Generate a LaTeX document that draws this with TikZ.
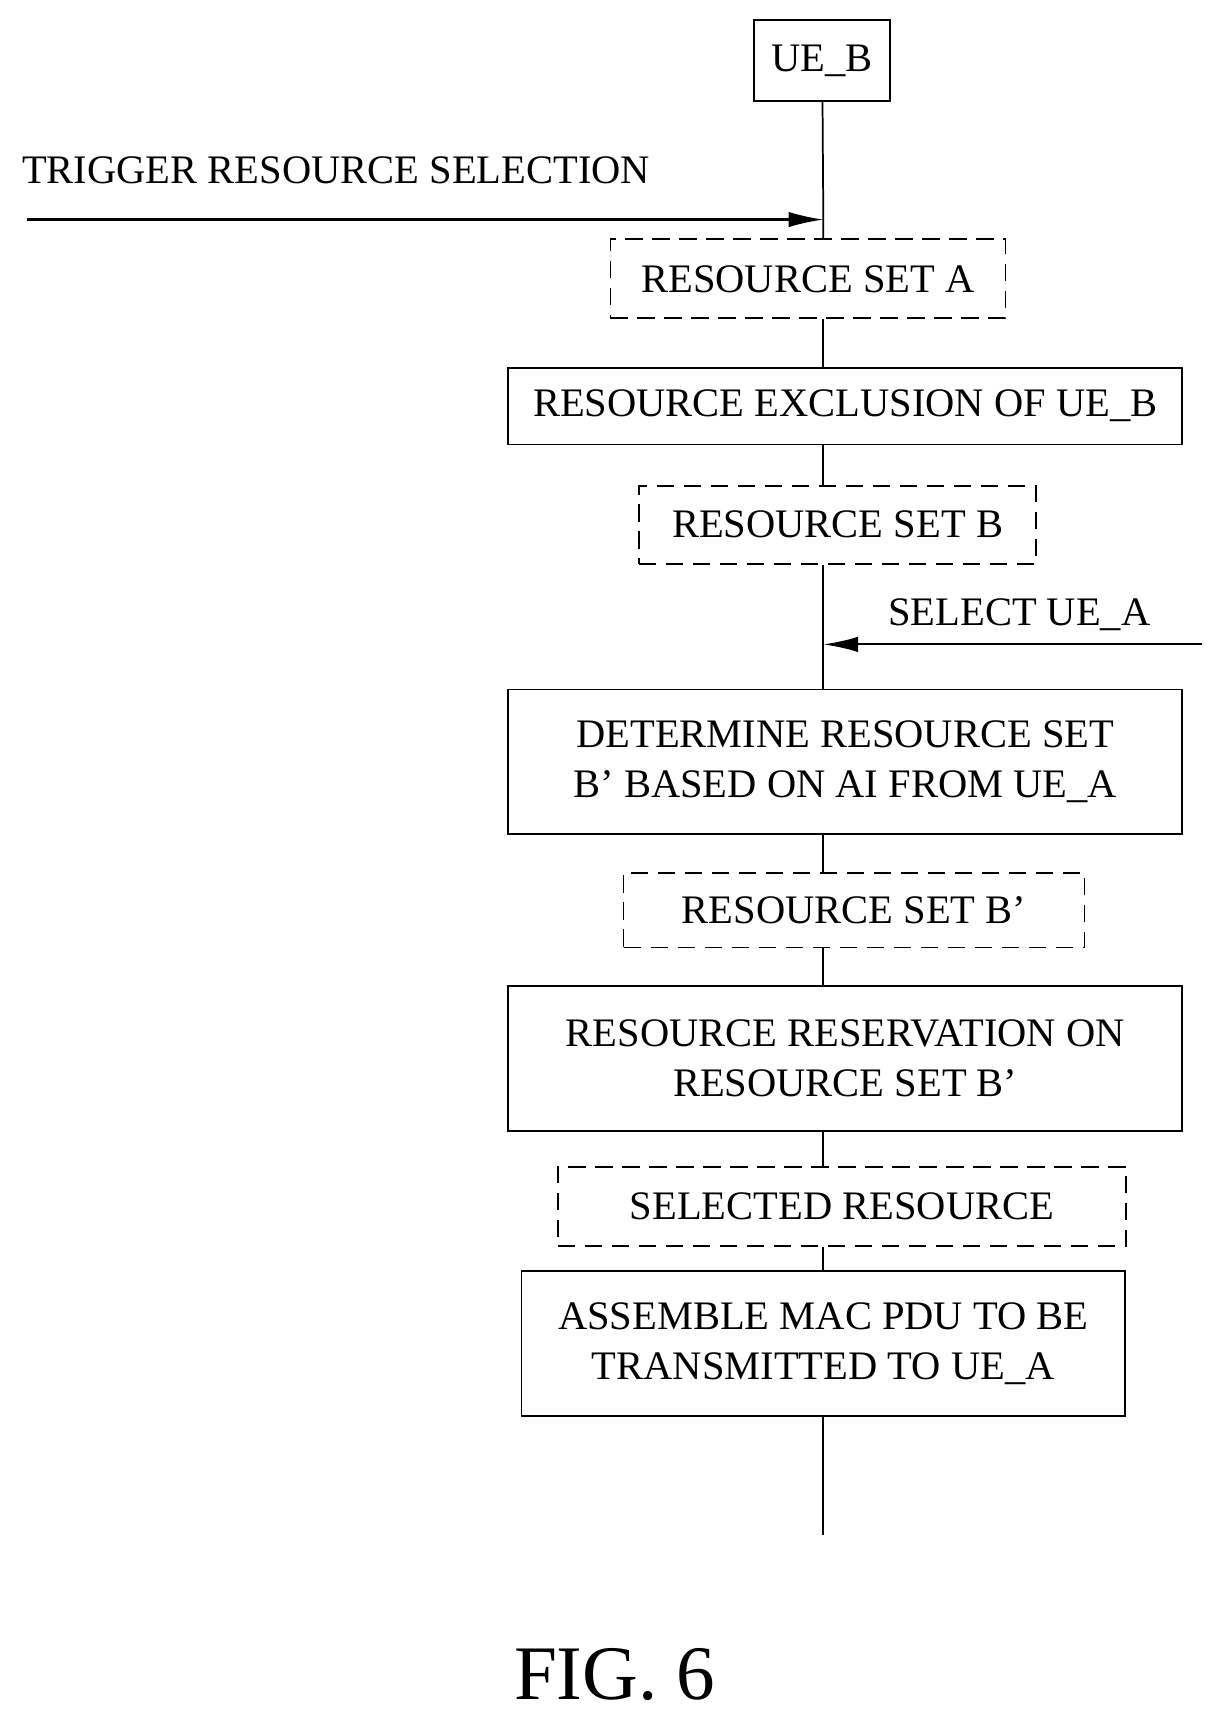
\documentclass[tikz,border=0pt]{standalone}
\usepackage{fontspec}
\setmainfont{Liberation Serif}
\usetikzlibrary{arrows.meta}
\begin{document}
\begin{tikzpicture}[x=0.02cm,y=-0.02cm,
  every node/.style={font=\fontsize{21}{26}\selectfont},
  solidbox/.style={draw, line width=0.9pt, inner sep=0pt, align=center},
  dashbox/.style={draw, line width=0.9pt, dash pattern=on 9pt off 5pt, inner sep=0pt, align=center},
  flow/.style={line width=0.9pt},
  trig/.style={line width=1.1pt, -{Latex[length=18pt,width=8pt]}}]
  \useasboundingbox (0,0) rectangle (1110,1565);
  \node[solidbox, minimum width=2.48cm, minimum height=1.48cm] (ueb) at (749,55) {UE\_B};
  \node[dashbox, minimum width=7.2cm, minimum height=1.44cm] (seta) at (736,254) {RESOURCE SET A};
  \node[solidbox, minimum width=12.28cm, minimum height=1.4cm] (excl) at (770,370) {RESOURCE EXCLUSION OF UE\_B};
  \node[dashbox, minimum width=7.24cm, minimum height=1.42cm] (setb) at (763,478) {RESOURCE SET B};
  \node[solidbox, minimum width=12.28cm, minimum height=2.64cm] (det) at (770,694) {DETERMINE RESOURCE SET\\B’ BASED ON AI FROM UE\_A};
  \node[dashbox, minimum width=8.4cm, minimum height=1.36cm] (setbp) at (778,829) {RESOURCE SET B’};
  \node[solidbox, minimum width=12.28cm, minimum height=2.64cm] (resv) at (770,964) {RESOURCE RESERVATION ON\\RESOURCE SET B’};
  \node[dashbox, minimum width=10.36cm, minimum height=1.44cm] (sel) at (767,1099) {SELECTED RESOURCE};
  \node[solidbox, minimum width=11cm, minimum height=2.64cm] (asm) at (750,1224) {ASSEMBLE MAC PDU TO BE\\TRANSMITTED TO UE\_A};
  % lifeline
  \coordinate (trighit) at (750,200);
  \coordinate (selhit) at (750,587);
  \coordinate (lineend) at (750,1398);
  \draw[flow] (ueb) -- (trighit) -- (seta.north -| trighit);
  \draw[flow] (seta.south -| trighit) -- (excl.north -| trighit);
  \draw[flow] (excl.south -| trighit) -- (setb.north -| trighit);
  \draw[flow] (setb.south -| trighit) -- (det.north -| trighit);
  \draw[flow] (det.south -| trighit) -- (setbp.north -| trighit);
  \draw[flow] (setbp.south -| trighit) -- (resv.north -| trighit);
  \draw[flow] (resv.south -| trighit) -- (sel.north -| trighit);
  \draw[flow] (sel.south -| trighit) -- (asm.north -| trighit);
  \draw[flow] (asm.south -| trighit) -- (lineend);
  % incoming triggers
  \coordinate (trigstart) at (25,200);
  \coordinate (selstart) at (1095,587);
  \draw[trig] (trigstart) -- (trighit);
  \draw[trig] (selstart) -- (selhit);
  \node[anchor=west] (trigtxt) at (14,155) {TRIGGER RESOURCE SELECTION};
  \node[anchor=west] (seltxt) at (803,560) {SELECT UE\_A};
  \node[font=\fontsize{40}{46}\selectfont] (fig) at (560,1525) {FIG. 6};
\end{tikzpicture}
\end{document}
